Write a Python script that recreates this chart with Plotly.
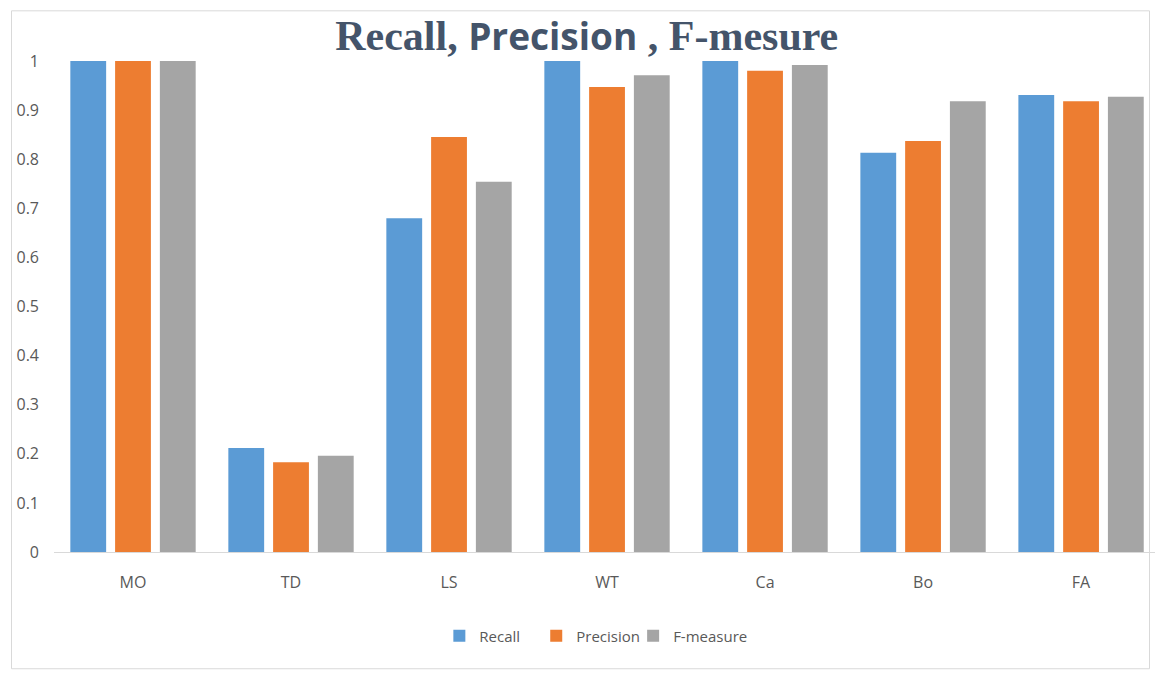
import plotly.graph_objects as go

categories = ["MO", "TD", "LS", "WT", "Ca", "Bo", "FA"]
recall = [1.0, 0.212, 0.680, 1.0, 1.0, 0.813, 0.931]
precision = [1.0, 0.183, 0.845, 0.947, 0.980, 0.837, 0.918]
f_measure = [1.0, 0.196, 0.754, 0.971, 0.992, 0.918, 0.927]
y_ticks = [0, 0.1, 0.2, 0.3, 0.4, 0.5, 0.6, 0.7, 0.8, 0.9, 1]
y_tick_text = ["0", "0.1", "0.2", "0.3", "0.4", "0.5", "0.6", "0.7", "0.8", "0.9", "1"]

series = [
    ("Recall", recall, "#5b9bd5", "legend"),
    ("Precision", precision, "#ed7d31", "legend2"),
    ("F-measure", f_measure, "#a5a5a5", "legend3"),
]

fig = go.Figure()
for name, vals, color, leg in series:
    fig.add_trace(go.Bar(x=categories, y=vals, name=name, marker_color=color,
                         marker_line_width=0, legend=leg, showlegend=True))

serif = "Liberation Serif"
sans = "Open Sans"
title_html = (
    f'<span style="font-family:{serif}">Recall, </span>'
    f'<span style="font-family:{sans};font-size:37px">Precision</span>'
    f'<span style="font-family:{serif}"> , F-mesure</span>'
)

legend_style = dict(orientation="h", xanchor="left", y=-0.164, yanchor="middle",
                    font=dict(size=15, color="#595959"), itemwidth=30,
                    bgcolor="rgba(0,0,0,0)", visible=True)

fig.update_layout(
    width=1155, height=675,
    margin=dict(l=54, r=0, t=40, b=123),
    paper_bgcolor="white", plot_bgcolor="white",
    showlegend=True,
    barmode="group", bargap=0.15, bargroupgap=0.2,
    font=dict(family="Open Sans", color="#595959", size=15),
    title=dict(text=f"<b>{title_html}</b>", x=0.508, xanchor="center",
               y=0.947, yanchor="middle",
               font=dict(size=42, color="#44546a", family=serif)),
    xaxis=dict(range=[-0.5, 6.468], showgrid=False, showline=True,
               linecolor="#d9d9d9", linewidth=1, ticks="",
               ticklabelstandoff=16, tickfont=dict(size=16, color="#595959")),
    yaxis=dict(range=[0, 1.0428], showgrid=False, zeroline=False,
               showline=False, tickvals=y_ticks, ticktext=y_tick_text,
               ticklabelstandoff=14, tickfont=dict(size=16, color="#595959")),
    legend=dict(x=0.35, **legend_style),
    legend2=dict(x=0.438, **legend_style),
    legend3=dict(x=0.526, **legend_style),
    shapes=[dict(type="rect", xref="paper", yref="paper",
                 x0=-0.0386, x1=0.995, y0=-0.228, y1=1.057,
                 line=dict(color="#d9d9d9", width=1), layer="below")],
)

fig.write_html("out.html")
